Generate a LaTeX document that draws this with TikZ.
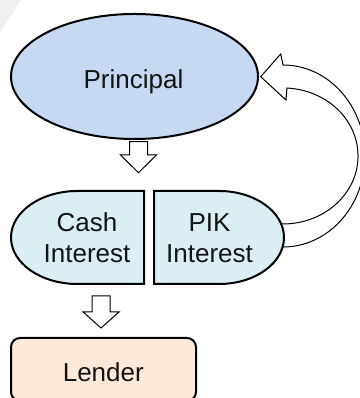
\documentclass[tikz,border=0pt]{standalone}
\usepackage{fontspec}
\setmainfont{Liberation Sans}
\usetikzlibrary{shapes.geometric}
\definecolor{princol}{RGB}{198,217,241}
\definecolor{intcol}{RGB}{218,238,243}
\definecolor{lendcol}{RGB}{253,233,217}
\definecolor{txtcol}{RGB}{20,20,20}
\definecolor{shadecol}{RGB}{240,240,240}
\tikzset{
  shapeline/.style={draw=black, line width=2pt},
  arrowline/.style={draw=black, line width=1pt, fill=white, line join=miter},
  holder/.style={draw=none, inner sep=0pt, outer sep=0pt},
  lbl/.style={font=\fontsize{26}{31}\selectfont, text=txtcol, inner sep=0pt, align=center},
}
\begin{document}
\begin{tikzpicture}[x=1pt,y=1pt]
\useasboundingbox (0,0) rectangle (359,398);
% faint corner shade
\fill[shadecol] (0,398) -- (21,398) -- (0,365) -- cycle;

% principal ellipse
\node[ellipse, shapeline, fill=princol, minimum width=247pt, minimum height=125pt, inner sep=0pt] (principal) at (134.5,321.5) {};
\node[lbl, anchor=base] (principaltxt) at (133.5,309.7) {Principal};

% curved return arrow (drawn before PIK so its end is hidden)
\coordinate (cstart) at (283,333);
\draw[arrowline] (cstart) arc[start angle=90, end angle=-95, x radius=82, y radius=91]
  -- (276.5,174.3) arc[start angle=-95, end angle=87, x radius=75, y radius=68]
  -- (286,298) -- (260.7,321.3) -- (280.7,344) -- cycle;

% interest shapes
\node[holder, minimum width=133pt, minimum height=93pt] (cash) at (77.5,160.5) {};
\node[holder, minimum width=130pt, minimum height=93pt] (pik) at (219,160.5) {};
\draw[shapeline, fill=intcol] (cash.north east) -- (cash.north)
  arc[start angle=90, end angle=270, x radius=66.5, y radius=46.5]
  -- (cash.south east) -- cycle;
\draw[shapeline, fill=intcol] (pik.north west) -- (pik.north)
  arc[start angle=90, end angle=-90, x radius=65, y radius=46.5]
  -- (pik.south west) -- cycle;
\node[lbl] (cashtxt) at (87,160) {Cash\\Interest};
\node[lbl] (piktxt) at (209.5,160) {PIK\\Interest};

% lender box
\node[draw=black, line width=2pt, fill=lendcol, rounded corners=9pt, minimum width=185pt, minimum height=63pt, inner sep=0pt] (lender) at (103.5,28.5) {};
\node[lbl, anchor=base] (lendertxt) at (103.3,16.3) {Lender};

% block arrow: principal -> interest
\draw[arrowline] (129.5,256.3) -- (129.5,243) -- (120.5,243) -- (138.5,225.3)
  -- (156.5,243) -- (147.5,243) -- (147.5,256.3) -- cycle;
% block arrow: cash interest -> lender
\draw[arrowline] (92.2,102) -- (92.2,86) -- (83.2,86) -- (101,70)
  -- (119,86) -- (110,86) -- (110,102) -- cycle;
\end{tikzpicture}
\end{document}
